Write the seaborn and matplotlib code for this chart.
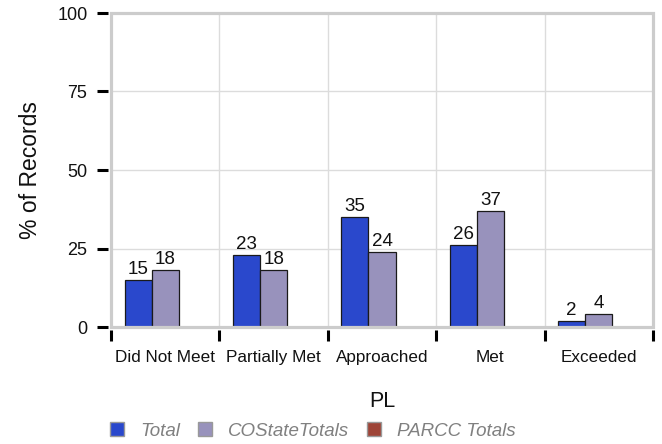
import numpy as np
import pandas as pd
import matplotlib
matplotlib.use("Agg")
import matplotlib.pyplot as plt
from matplotlib.patches import Rectangle, Patch
import seaborn as sns

categories = ["Did Not Meet", "Partially Met", "Approached", "Met", "Exceeded"]
series_names = ["Total", "COStateTotals", "PARCC Totals"]
total_vals = [15, 23, 35, 26, 2]
costate_vals = [18, 18, 24, 37, 4]
parcc_vals = [np.nan, np.nan, np.nan, np.nan, np.nan]
colors = ["#2a48cc", "#9892bc", "#9e4437"]
y_ticks = [0, 25, 50, 75, 100]

rows = []
for name, vals in zip(series_names, [total_vals, costate_vals, parcc_vals]):
    for c, v in zip(categories, vals):
        rows.append({"PL": c, "pct": v, "series": name})
df = pd.DataFrame(rows)

sns.set_theme(style="white")
plt.rcParams["font.family"] = ["Liberation Sans", "DejaVu Sans"]

fig = plt.figure(figsize=(6.62, 4.44), dpi=100)
ax = fig.add_axes([111 / 662, 1 - 327 / 444, (653 - 111) / 662, (327 - 13) / 444])

sns.barplot(data=df, x="PL", y="pct", hue="series", order=categories,
            hue_order=series_names, palette=colors, width=0.75,
            edgecolor="#1a1a1a", linewidth=0.9, saturation=1,
            errorbar=None, legend=False, ax=ax)

for cont in ax.containers:
    labels = [("%d" % round(v)) if np.isfinite(v) else "" for v in cont.datavalues]
    ax.bar_label(cont, labels=labels, padding=1.5, fontsize=13.5, color="#111111")

ax.set_ylim(0, 100)
ax.set_xlim(-0.5, len(categories) - 0.5)
ax.set_yticks(y_ticks)
ax.set_xticks(np.arange(-0.5, len(categories)), labels=[""] * (len(categories) + 1))
ax.set_xticks(np.arange(len(categories)), labels=categories, minor=True)
ax.tick_params(axis="x", which="minor", bottom=True, length=0, pad=14, labelsize=12.3,
               labelcolor="#111111")
ax.tick_params(axis="x", which="major", bottom=True, length=8, width=2.2, color="black",
               direction="out")
ax.tick_params(axis="y", which="major", left=True, length=8, width=2.2, color="black",
               direction="out", pad=7, labelsize=13, labelcolor="#111111")

ax.grid(True, which="major", axis="both", color="#dcdcdc", linewidth=1)
ax.set_axisbelow(True)

for s in ["top", "right"]:
    ax.spines[s].set_visible(False)
ax.spines["bottom"].set_position(("outward", 2.5))
ax.spines["left"].set_position(("outward", 2))
ax.spines["bottom"].set_visible(False)
ax.spines["left"].set_visible(False)
ax.add_patch(Rectangle((0, 0), 1, 1, transform=ax.transAxes, fill=False,
                       edgecolor="#cccccc", linewidth=2.3, clip_on=False, zorder=5))

ax.set_xlabel("PL", fontsize=15.5, labelpad=19, color="#111111")
ax.set_ylabel("% of Records", fontsize=16.5, labelpad=11, color="#111111")

handles = [Patch(facecolor=c, edgecolor="#999999", linewidth=1) for c in colors]
leg = fig.legend(handles, series_names, loc="center left", bbox_to_anchor=(110 / 662, 1 - 431 / 444),
                 ncol=3, frameon=False, prop={"style": "italic", "size": 13.5},
                 borderaxespad=0, borderpad=0,
                 handlelength=0.75, handleheight=0.75, handletextpad=0.85, columnspacing=0.96)
for t in leg.get_texts():
    t.set_color("#808080")

fig.savefig("out.png", dpi=100)
